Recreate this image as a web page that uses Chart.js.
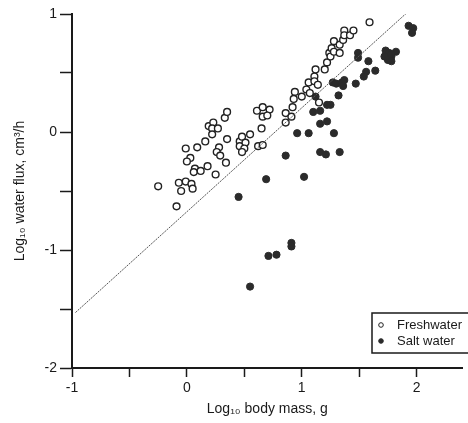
<!DOCTYPE html>
<html>
<head>
<meta charset="utf-8">
<script src="https://cdn.jsdelivr.net/npm/chart.js@4.4.1/dist/chart.umd.min.js"></script>
<style>
  html, body { margin: 0; padding: 0; background: #fff; }
  #wrap { width: 468px; height: 423px; }
</style>
</head>
<body>
<div id="wrap"><canvas id="myChart" width="468" height="423"></canvas></div>
<script>
// tick positions (integers get a label, halves are just marks)
const xTicks = [-1, -0.5, 0, 0.5, 1, 1.5, 2];
const yTicks = [-2, -1.5, -1, -0.5, 0, 0.5, 1];

// freshwater animals (open circles)
const freshX = [-0.25, -0.09, -0.07, -0.05, -0.01, 0.04, 0.05, -0.01, 0.03, 0.00,
    0.09, 0.07, 0.06, 0.12, 0.18, 0.25, 0.16, 0.19, 0.23, 0.22,
    0.27, 0.22, 0.28, 0.26, 0.29, 0.34, 0.35, 0.33, 0.35, 0.46,
    0.48, 0.46, 0.51, 0.50, 0.48, 0.55, 0.62, 0.66, 0.65, 0.61,
    0.66, 0.66, 0.72, 0.70, 0.86, 0.86, 0.91, 0.92, 0.94, 0.93,
    1.00, 1.04, 1.06, 1.07, 1.11, 1.11, 1.14, 1.12, 1.15, 1.20,
    1.22, 1.24, 1.25, 1.26, 1.28, 1.28, 1.33, 1.33, 1.36, 1.37,
    1.37, 1.42, 1.45, 1.59];
const freshY = [-0.46, -0.63, -0.43, -0.50, -0.42, -0.44, -0.48, -0.14, -0.22, -0.25,
    -0.13, -0.31, -0.34, -0.33, -0.29, -0.36, -0.08, 0.05, 0.08, 0.03,
    0.03, -0.02, -0.13, -0.17, -0.20, -0.26, -0.06, 0.12, 0.17, -0.08,
    -0.04, -0.12, -0.09, -0.14, -0.17, -0.02, -0.12, -0.11, 0.03, 0.18,
    0.21, 0.13, 0.19, 0.14, 0.08, 0.16, 0.13, 0.21, 0.34, 0.28,
    0.30, 0.36, 0.42, 0.33, 0.47, 0.43, 0.40, 0.53, 0.25, 0.53,
    0.59, 0.67, 0.64, 0.71, 0.77, 0.68, 0.74, 0.67, 0.78, 0.86,
    0.82, 0.82, 0.86, 0.93];

// salt water animals (filled circles)
const saltX = [0.45, 0.55, 0.69, 0.71, 0.78, 0.86, 0.91, 0.91, 0.96, 1.02,
    1.06, 1.10, 1.12, 1.16, 1.16, 1.16, 1.21, 1.22, 1.25, 1.22,
    1.28, 1.33, 1.32, 1.27, 1.30, 1.35, 1.37, 1.36, 1.47, 1.49,
    1.49, 1.58, 1.56, 1.64, 1.54, 1.73, 1.76, 1.82, 1.72, 1.78,
    1.75, 1.78, 1.78, 1.93, 1.97, 1.96];
const saltY = [-0.55, -1.31, -0.40, -1.05, -1.04, -0.20, -0.94, -0.97, -0.01, -0.38,
    -0.01, 0.17, 0.30, 0.18, 0.07, -0.17, -0.19, 0.23, 0.23, 0.09,
    -0.01, -0.17, 0.31, 0.42, 0.41, 0.42, 0.44, 0.39, 0.41, 0.67,
    0.63, 0.60, 0.51, 0.52, 0.47, 0.69, 0.67, 0.68, 0.64, 0.64,
    0.61, 0.60, 0.66, 0.90, 0.88, 0.84];

// fitted line end points
const lineX = [-0.97, 1.96];
const lineY = [-1.53, 1.05];

function toPoints(xs, ys) {
    return xs.map((x, i) => ({x: x, y: ys[i]}));
}

const ink = '#1a1a1a';
const fontFam = '"Liberation Sans", Arial, sans-serif';

// little boxed legend sitting in the lower right corner of the plot
const boxLegend = {
    id: 'boxLegend',
    afterDraw(chart) {
        const ctx = chart.ctx;
        const area = chart.chartArea;
        const left = area.left + 300, top = area.top + 299, h = 40;
        ctx.save();
        ctx.fillStyle = '#fff';
        ctx.fillRect(left, top, area.right - left + 10, h);
        ctx.strokeStyle = ink;
        ctx.lineWidth = 1.5;
        ctx.strokeRect(left, top, area.right - left + 10, h);
        ctx.font = '13px ' + fontFam;
        ctx.textBaseline = 'middle';
        const items = chart.data.datasets.filter(d => d.inLegend);
        items.forEach((d, i) => {
            const y = top + 12 + i * 16;
            ctx.beginPath();
            ctx.arc(left + 9, y, 2.3, 0, Math.PI * 2);
            ctx.fillStyle = d.backgroundColor;
            ctx.fill();
            ctx.lineWidth = 1;
            ctx.strokeStyle = d.borderColor;
            ctx.stroke();
            ctx.fillStyle = ink;
            ctx.fillText(d.label, left + 25, y);
        });
        ctx.restore();
    }
};

const data = {
    datasets: [{
        type: 'line',
        label: 'fit',
        data: toPoints(lineX, lineY),
        borderColor: '#555',
        borderWidth: 1,
        borderDash: [2, 1],
        pointRadius: 0,
        fill: false
    }, {
        type: 'scatter',
        label: 'Freshwater',
        inLegend: true,
        data: toPoints(freshX, freshY),
        backgroundColor: '#ffffff',
        borderColor: '#222',
        borderWidth: 1.4,
        pointRadius: 3.4
    }, {
        type: 'scatter',
        label: 'Salt water',
        inLegend: true,
        data: toPoints(saltX, saltY),
        backgroundColor: '#2b2b2b',
        borderColor: '#2b2b2b',
        borderWidth: 1,
        pointRadius: 3.6
    }]
};

const config = {
    type: 'scatter',
    data: data,
    plugins: [boxLegend],
    options: {
        responsive: false,
        devicePixelRatio: 1,
        animation: false,
        layout: { padding: { top: 14, right: 0, bottom: 0, left: 0 } },
        plugins: {
            legend: { display: false },
            tooltip: { enabled: false }
        },
        scales: {
            x: {
                type: 'linear',
                min: -1,
                max: 2.4,
                afterFit: s => { s.height = 55; },
                afterBuildTicks: s => { s.ticks = xTicks.map(v => ({value: v})); },
                border: { color: ink, width: 2 },
                grid: { drawOnChartArea: false, tickLength: 9, tickColor: ink, tickWidth: 1.5 },
                ticks: {
                    color: ink,
                    padding: 3,
                    maxRotation: 0,
                    autoSkip: false,
                    font: { family: fontFam, size: 14 },
                    callback: v => Number.isInteger(v) ? String(v) : ''
                },
                title: {
                    display: true,
                    text: 'Log₁₀ body mass, g',
                    color: ink,
                    font: { family: fontFam, size: 14 },
                    padding: { top: 0, bottom: 5 }
                }
            },
            y: {
                type: 'linear',
                min: -2,
                max: 1,
                afterFit: s => { s.width = 72; },
                afterBuildTicks: s => { s.ticks = yTicks.map(v => ({value: v})); },
                border: { color: ink, width: 2 },
                grid: { drawOnChartArea: false, tickLength: 12, tickColor: ink, tickWidth: 1.5 },
                ticks: {
                    color: ink,
                    padding: 3,
                    autoSkip: false,
                    font: { family: fontFam, size: 14 },
                    callback: v => Number.isInteger(v) ? String(v) : ''
                },
                title: {
                    display: true,
                    text: 'Log₁₀ water flux, cm³/h',
                    color: ink,
                    font: { family: fontFam, size: 14 },
                    padding: { top: 12, bottom: 0 }
                }
            }
        }
    }
};

const myChart = new Chart(document.getElementById('myChart'), config);
</script>
</body>
</html>
